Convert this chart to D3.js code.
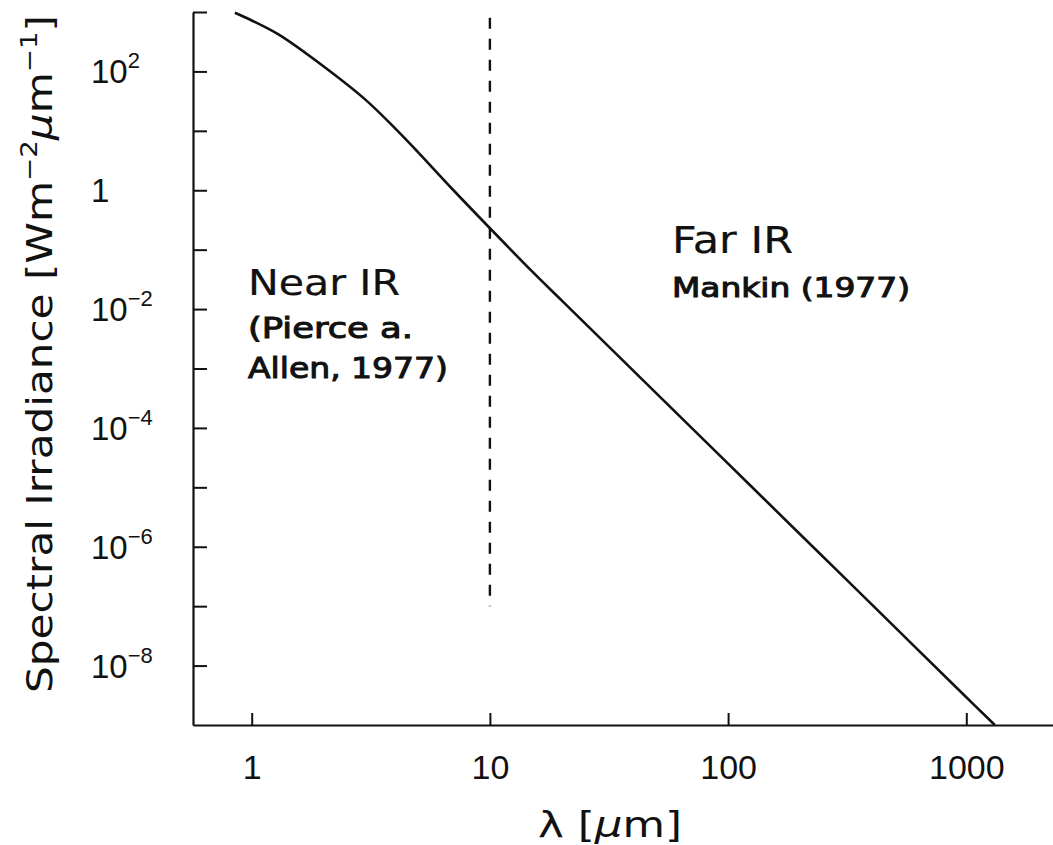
<!DOCTYPE html>
<html>
<head>
<meta charset="utf-8">
<script src="https://cdn.jsdelivr.net/npm/d3@7"></script>
<style>
  body { margin: 0; background: #fff; }
  svg { display: block; }
  .tick-label { font-family: "Liberation Sans", Arial, sans-serif; fill: #111; }
  .note { font-family: "DejaVu Sans", sans-serif; fill: #111; }
</style>
</head>
<body>
<div id="chart"></div>
<script>
// Solar spectral irradiance (log-log)
var wavelength = [0.85, 1, 1.3, 2, 3, 4, 5, 7, 10, 15, 20, 50, 100, 200, 500, 1000, 1318];
var irradiance = [970, 720, 415, 122, 33.5, 11.0, 4.35, 1.02, 0.23, 0.0434, 0.014, 3.82e-4, 2.5e-5, 1.64e-6, 4.48e-8, 2.93e-9, 1e-9];

var xTicks = [1, 10, 100, 1000];
var xTickLabels = ["1", "10", "100", "1000"];
var yTickExps = [3, 2, 1, 0, -1, -2, -3, -4, -5, -6, -7, -8];
var yLabelExps = [2, 0, -2, -4, -6, -8];

// boundary between near-IR and far-IR data sets
var boundaryWavelength = 10;
var boundaryRange = [1e-7, 800];

var W = 1053, H = 845;
var margin = {left: 193, right: 1053, top: 12, bottom: 725};

var svg = d3.select("#chart").append("svg")
    .attr("width", W)
    .attr("height", H);

var x = d3.scaleLog().domain([0.567, 2312]).range([margin.left, margin.right]);
var y = d3.scaleLog().domain([1e-9, 1e3]).range([margin.bottom, margin.top]);

// x axis, ticks pointing inward
var xAxis = d3.axisBottom(x)
    .tickValues(xTicks)
    .tickSizeInner(-12)
    .tickSizeOuter(0)
    .tickPadding(30)
    .tickFormat(function (d, i) { return xTickLabels[i]; });

var gx = svg.append("g")
    .attr("transform", "translate(0," + margin.bottom + ")")
    .call(xAxis);

gx.select(".domain").attr("stroke", "#111").attr("stroke-width", 2.2);
gx.selectAll(".tick line").attr("stroke", "#111").attr("stroke-width", 2);
gx.selectAll(".tick text")
    .attr("class", "tick-label")
    .attr("dy", "0.71em")
    .style("font-size", "34px")
    .attr("y", 30);

// y axis, ticks pointing inward, labels drawn by hand for superscripts
var yAxis = d3.axisLeft(y)
    .tickValues(yTickExps.map(function (e) { return Math.pow(10, e); }))
    .tickSizeInner(-14)
    .tickSizeOuter(0)
    .tickFormat("");

var gy = svg.append("g")
    .attr("transform", "translate(" + margin.left + ",0)")
    .call(yAxis);

gy.select(".domain").attr("stroke", "#111").attr("stroke-width", 2.2);
gy.selectAll(".tick line").attr("stroke", "#111").attr("stroke-width", 2);

var yl = svg.append("g").selectAll("text")
    .data(yLabelExps)
  .enter().append("text")
    .attr("class", "tick-label")
    .attr("x", 91)
    .attr("y", function (d) { return y(Math.pow(10, d)) + 12; })
    .style("font-size", "33px");

yl.each(function (d) {
  var t = d3.select(this);
  if (d === 0) {
    t.text("1");
  } else {
    t.append("tspan").text("10");
    t.append("tspan")
      .attr("dy", -15)
      .style("font-size", "22px")
      .text(d < 0 ? "\u2212" + (-d) : String(d));
  }
});

// curve
var line = d3.line()
    .x(function (d) { return x(d[0]); })
    .y(function (d) { return y(d[1]); })
    .curve(d3.curveCatmullRom.alpha(0.5));

svg.append("path")
    .datum(d3.zip(wavelength, irradiance))
    .attr("d", line)
    .attr("fill", "none")
    .attr("stroke", "#111")
    .attr("stroke-width", 2.6);

// dashed boundary
svg.append("line")
    .attr("x1", x(boundaryWavelength))
    .attr("x2", x(boundaryWavelength))
    .attr("y1", y(boundaryRange[1]))
    .attr("y2", y(boundaryRange[0]))
    .attr("stroke", "#111")
    .attr("stroke-width", 2.4)
    .attr("stroke-dasharray", "11,10");

// annotations
function note(txt, px, py, size, len, heavy) {
  svg.append("text")
    .attr("class", "note")
    .attr("x", px)
    .attr("y", py)
    .attr("textLength", len)
    .attr("lengthAdjust", "spacingAndGlyphs")
    .style("font-size", size + "px")
    .style("stroke", "#111")
    .style("stroke-width", heavy ? 1.0 : 0.2)
    .text(txt);
}

note("Near IR", 248, 295, 36, 152);
note("(Pierce a.", 248, 338, 28, 165, true);
note("Allen, 1977)", 248, 378, 28, 200, true);
note("Far IR", 672, 253, 37, 121);
note("Mankin (1977)", 672, 297, 26, 238, true);

// axis titles
var xt = svg.append("text")
    .attr("class", "note")
    .attr("x", 538)
    .attr("y", 837)
    .attr("textLength", 144)
    .attr("lengthAdjust", "spacingAndGlyphs")
    .style("font-size", "36px");
xt.append("tspan").text("\u03bb [");
xt.append("tspan").style("font-style", "italic").text("\u03bc");
xt.append("tspan").text("m]");

var yt = svg.append("text")
    .attr("class", "note")
    .attr("transform", "translate(52,693) rotate(-90)")
    .attr("textLength", 678)
    .attr("lengthAdjust", "spacingAndGlyphs")
    .style("font-size", "35px");
yt.append("tspan").text("Spectral Irradiance [Wm");
yt.append("tspan").attr("dy", -15).style("font-size", "23px").text("\u22122");
yt.append("tspan").attr("dy", 15).style("font-style", "italic").text("\u03bc");
yt.append("tspan").text("m");
yt.append("tspan").attr("dy", -15).style("font-size", "23px").text("\u22121");
yt.append("tspan").attr("dy", 15).text("]");
</script>
</body>
</html>
